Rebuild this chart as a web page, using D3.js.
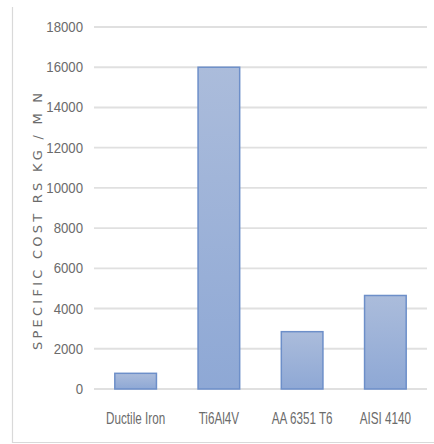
<!DOCTYPE html>
<html>
<head>
<meta charset="utf-8">
<script src="https://cdn.jsdelivr.net/npm/d3@7"></script>
<style>
  html, body { margin: 0; padding: 0; background: #fff; }
  svg { display: block; }
  .tick-label { font-family: "Liberation Sans", Arial, sans-serif; fill: #6b6b6b; }
</style>
</head>
<body>
<svg id="chart" width="434" height="444"></svg>
<script>
// Specific cost of candidate materials
const materials = ["Ductile Iron", "Ti6Al4V", "AA 6351 T6", "AISI 4140"];
const specificCost = [780, 16000, 2850, 4650];
const yTicks = [0, 2000, 4000, 6000, 8000, 10000, 12000, 14000, 16000, 18000];
const yTitle = "SPECIFIC COST RS KG / M N";

const svg = d3.select("#chart");
const plot = { left: 94, right: 427, top: 27, bottom: 389 };

const x = d3.scaleBand()
  .domain(materials)
  .range([plot.left, plot.right])
  .paddingInner(0.5)
  .paddingOuter(0.25);

const y = d3.scaleLinear()
  .domain([0, 18000])
  .range([plot.bottom, plot.top]);

const defs = svg.append("defs");
const grad = defs.append("linearGradient")
  .attr("id", "barFill")
  .attr("x1", 0).attr("y1", 0).attr("x2", 0).attr("y2", 1);
grad.append("stop").attr("offset", "0%").attr("stop-color", "#abbcdb");
grad.append("stop").attr("offset", "100%").attr("stop-color", "#8ea8d5");

// Outer chart-area frame (left and bottom edges visible)
svg.append("path")
  .attr("d", `M12.5,7 V442.5 H434`)
  .attr("fill", "none")
  .attr("stroke", "#d9d9d9")
  .attr("stroke-width", 1.2);

// Horizontal gridlines
svg.append("g")
  .selectAll("line")
  .data(yTicks)
  .join("line")
  .attr("x1", plot.left)
  .attr("x2", plot.right)
  .attr("y1", d => y(d))
  .attr("y2", d => y(d))
  .attr("stroke", "#e0e0e0")
  .attr("stroke-width", 1.9);

// Y tick labels, condensed, right edge at x = 83
svg.append("g")
  .selectAll("text")
  .data(yTicks)
  .join("text")
  .attr("class", "tick-label")
  .attr("font-size", 15)
  .attr("text-anchor", "end")
  .attr("transform", d => `translate(83,${y(d) + 5}) scale(0.88,1)`)
  .text(d => d);

// Bars
svg.append("g")
  .selectAll("rect")
  .data(materials)
  .join("rect")
  .attr("x", d => x(d))
  .attr("width", x.bandwidth())
  .attr("y", (d, i) => y(specificCost[i]))
  .attr("height", (d, i) => y(0) - y(specificCost[i]))
  .attr("fill", "url(#barFill)")
  .attr("stroke", "#6d8fc9")
  .attr("stroke-width", 1.5);

// Category labels
svg.append("g")
  .selectAll("text")
  .data(materials)
  .join("text")
  .attr("class", "tick-label")
  .attr("font-size", 16)
  .attr("text-anchor", "middle")
  .attr("transform", d => `translate(${x(d) + x.bandwidth() / 2},423.5) scale(0.73,1)`)
  .text(d => d);

// Vertical axis title
svg.append("text")
  .attr("transform", `translate(42,221.5) rotate(-90)`)
  .attr("text-anchor", "middle")
  .attr("font-family", "'DejaVu Sans', sans-serif")
  .attr("font-size", 13)
  .attr("textLength", 257)
  .attr("lengthAdjust", "spacing")
  .attr("fill", "#6b6b6b")
  .text(yTitle);
</script>
</body>
</html>
